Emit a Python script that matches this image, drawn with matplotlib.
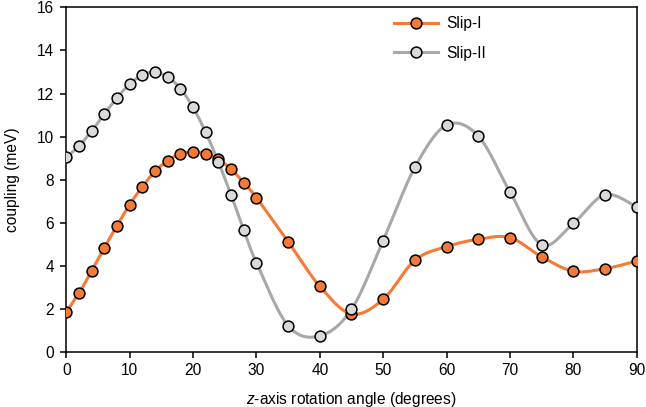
import numpy as np
from matplotlib import pyplot as plt
from matplotlib import rcParams

rcParams['font.family'] = 'sans-serif'
rcParams['font.sans-serif'] = ['Liberation Sans', 'DejaVu Sans']
rcParams['mathtext.fontset'] = 'custom'
rcParams['mathtext.rm'] = 'Liberation Sans'
rcParams['mathtext.it'] = 'Liberation Sans:italic'

angles = [0, 2, 4, 6, 8, 10, 12, 14, 16, 18, 20, 22, 24, 26, 28, 30,
          35, 40, 45, 50, 55, 60, 65, 70, 75, 80, 85, 90]
slip1 = [1.87, 2.74, 3.77, 4.85, 5.87, 6.85, 7.68, 8.39, 8.89, 9.21, 9.30, 9.22,
         8.95, 8.49, 7.87, 7.17, 5.13, 3.06, 1.78, 2.46, 4.27, 4.90, 5.24, 5.32,
         4.43, 3.76, 3.88, 4.23]
slip2 = [9.04, 9.57, 10.26, 11.05, 11.80, 12.44, 12.86, 12.99, 12.77, 12.23, 11.36, 10.20,
         8.83, 7.30, 5.68, 4.16, 1.23, 0.76, 1.99, 5.18, 8.58, 10.54, 10.03, 7.44,
         4.99, 5.98, 7.31, 6.74]


def smooth(x, y, n=30):
    # excel-like smoothed line (bezier through the points)
    P = np.column_stack([x, y]).astype(float)
    out = []
    t = np.linspace(0, 1, n)[:, None]
    for i in range(len(P) - 1):
        a = P[i - 1] if i > 0 else P[i]
        d = P[i + 2] if i + 2 < len(P) else P[i + 1]
        c1 = P[i] + (P[i + 1] - a) / 6.0
        c2 = P[i + 1] - (d - P[i]) / 6.0
        seg = ((1 - t)**3) * P[i] + 3 * ((1 - t)**2) * t * c1 + 3 * (1 - t) * t**2 * c2 + t**3 * P[i + 1]
        out.append(seg if i == 0 else seg[1:])
    out = np.vstack(out)
    return out[:, 0], out[:, 1]


orange = '#F47A36'
grey_line = '#A8A8A8'
grey_face = '#D9D9D9'
fs = 11.2

fig = plt.figure(figsize=(6.46, 4.07), dpi=100)
ax = fig.add_axes([0.1026, 0.1344, 0.8830, 0.8476])

for y, lc, fc, lab in [(slip1, orange, orange, 'Slip-I'), (slip2, grey_line, grey_face, 'Slip-II')]:
    sx, sy = smooth(angles, y)
    ax.plot(sx, sy, color=lc, lw=2.2, zorder=2)
    ax.plot(angles, y, ls='none', marker='o', ms=7.8, mfc=fc, mec='black', mew=1.1, zorder=3)
    # legend proxy
    ax.plot([], [], color=lc, lw=2.2, marker='o', ms=7.8, mfc=fc, mec='black', mew=1.1, label=lab)

ax.set_xlim(0, 90)
ax.set_ylim(0, 16)
ax.set_xticks(np.arange(0, 91, 10))
ax.set_yticks(np.arange(0, 17, 2))
ax.tick_params(direction='out', length=4, width=1.1, labelsize=fs)
ax.tick_params(axis='y', pad=5)
ax.tick_params(axis='x', pad=4)
for s in ax.spines.values():
    s.set_linewidth(1.1)

ax.set_xlabel('$z$-axis rotation angle (degrees)', fontsize=fs, labelpad=8)
ax.set_ylabel('coupling (meV)', fontsize=fs, labelpad=12)

ax.legend(loc='upper left', bbox_to_anchor=(0.55, 1.015), frameon=False, fontsize=fs,
          handlelength=2.85, handletextpad=0.5, labelspacing=0.95)

fig.savefig('out.png', dpi=100)
